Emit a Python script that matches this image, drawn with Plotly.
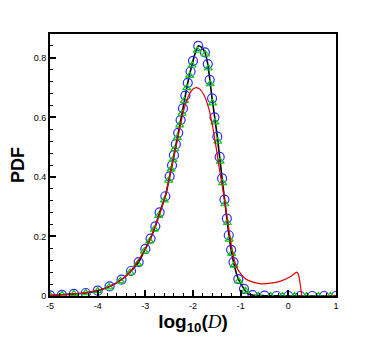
import plotly.graph_objects as go

# Blue circles
circle_x = [-5.0, -4.75, -4.5, -4.25, -4.0, -3.75, -3.5, -3.3, -3.14, -3.0, -2.89, -2.79, -2.7,
            -2.58, -2.49, -2.44, -2.40, -2.36, -2.31, -2.26, -2.21, -2.16, -2.11, -2.05, -2.0,
            -1.89, -1.75, -1.69, -1.65, -1.60, -1.55, -1.49, -1.44, -1.39, -1.34, -1.29, -1.25,
            -1.20, -1.15, -1.05, -0.93, -0.75, -0.5, -0.25, 0.0, 0.25, 0.5, 0.75, 1.0]
circle_y = [0.002, 0.004, 0.007, 0.010, 0.018, 0.032, 0.055, 0.084, 0.114, 0.158, 0.193, 0.234, 0.281,
            0.335, 0.402, 0.439, 0.473, 0.510, 0.548, 0.591, 0.630, 0.673, 0.716, 0.754, 0.790,
            0.840, 0.818, 0.779, 0.726, 0.664, 0.600, 0.535, 0.467, 0.395, 0.324, 0.260, 0.204,
            0.155, 0.114, 0.057, 0.024, 0.003, 0.001, 0.0, 0.0, 0.0, 0.0, 0.0, 0.0]

# Green triangles
tri_x = [-5.0, -4.75, -4.5, -4.25, -4.0, -3.76, -3.52, -3.32, -3.16, -3.02, -2.91, -2.81, -2.72,
         -2.60, -2.51, -2.46, -2.42, -2.38, -2.33, -2.28, -2.23, -2.18, -2.13, -2.07, -2.02,
         -1.91, -1.74, -1.68, -1.64, -1.59, -1.54, -1.48, -1.43, -1.38, -1.33, -1.28, -1.24,
         -1.19, -1.14, -1.04, -0.90, -0.63, -0.37, -0.12, 0.13, 0.38, 0.63, 0.88]
tri_y = [0.002, 0.004, 0.007, 0.010, 0.017, 0.030, 0.051, 0.079, 0.108, 0.150, 0.184, 0.224, 0.270,
         0.322, 0.388, 0.425, 0.458, 0.494, 0.532, 0.574, 0.613, 0.656, 0.699, 0.740, 0.775,
         0.825, 0.812, 0.765, 0.712, 0.648, 0.584, 0.519, 0.452, 0.380, 0.309, 0.246, 0.190,
         0.142, 0.103, 0.050, 0.018, 0.001, 0.0, 0.0, 0.0, 0.0, 0.0, 0.0]

# Black reference line
line_x = [-5.0, -4.75, -4.5, -4.25, -4.0, -3.75, -3.5, -3.3, -3.14, -3.0, -2.89, -2.79, -2.7,
          -2.58, -2.49, -2.40, -2.31, -2.21, -2.11, -2.0, -1.94, -1.89, -1.82, -1.75, -1.69,
          -1.60, -1.49, -1.39, -1.29, -1.20, -1.15, -1.05, -0.93, -0.85, -0.75, -0.5, 0.0, 0.5, 1.0]
line_y = [0.002, 0.004, 0.007, 0.010, 0.018, 0.032, 0.055, 0.084, 0.114, 0.158, 0.193, 0.234, 0.281,
          0.335, 0.402, 0.473, 0.548, 0.630, 0.716, 0.790, 0.822, 0.840, 0.835, 0.818, 0.779,
          0.664, 0.535, 0.395, 0.260, 0.155, 0.114, 0.057, 0.024, 0.008, 0.003, 0.001, 0.0, 0.0, 0.0]

# Red line
red_x = [-5.0, -4.5, -4.0, -3.75, -3.5, -3.3, -3.0, -2.8, -2.6, -2.45, -2.35, -2.25, -2.17, -2.08,
         -2.0, -1.93, -1.85, -1.77, -1.67, -1.60, -1.53, -1.45, -1.37, -1.29, -1.22, -1.15, -1.08,
         -1.0, -0.9, -0.79, -0.58, -0.37, -0.16, 0.02, 0.10, 0.17, 0.21, 0.24, 0.27, 0.29, 1.0]
red_y = [0.002, 0.007, 0.018, 0.032, 0.055, 0.084, 0.158, 0.232, 0.325, 0.43, 0.505, 0.585, 0.638, 0.677,
         0.695, 0.700, 0.694, 0.675, 0.630, 0.580, 0.515, 0.430, 0.355, 0.270, 0.195, 0.132, 0.095,
         0.075, 0.058, 0.049, 0.041, 0.043, 0.050, 0.063, 0.071, 0.080, 0.072, 0.050, 0.015, 0.0, 0.0]

x_ticks = [-5, -4, -3, -2, -1, 0, 1]
x_tick_text = ["-5", "-4", "-3", "-2", "-1", "0", "1"]
y_ticks = [0, 0.2, 0.4, 0.6, 0.8]
y_tick_text = ["0", "0.2", "0.4", "0.6", "0.8"]

fig = go.Figure()
fig.add_trace(go.Scatter(x=line_x, y=line_y, mode="lines", line=dict(color="black", width=1.6, shape="spline", smoothing=0.6)))
fig.add_trace(go.Scatter(x=circle_x, y=circle_y, mode="markers",
                         marker=dict(symbol="circle-open", size=9, color="#2b2bff", line=dict(width=1.2))))
fig.add_trace(go.Scatter(x=tri_x, y=tri_y, mode="markers",
                         marker=dict(symbol="triangle-up-open", size=7, color="#00cc00", line=dict(width=1.2))))
fig.add_trace(go.Scatter(x=red_x, y=red_y, mode="lines", line=dict(color="#e00000", width=1.2, shape="spline", smoothing=0.5)))

axis_common = dict(showgrid=False, zeroline=False, showline=True, linecolor="black", linewidth=2,
                   mirror=True, ticks="inside", ticklen=6, tickwidth=1.5, tickcolor="black",
                   automargin=False,
                   tickfont=dict(family="Liberation Sans, Arial", size=9, color="black"))
fig.update_xaxes(range=[-5, 1], tickvals=x_ticks, ticktext=x_tick_text,
                 minor=dict(dtick=0.2, ticks="inside", ticklen=3, tickcolor="black", tickwidth=1),
                 title=dict(text="<b>log<sub>10</sub>(</b><i><span style='font-family:Liberation Serif'>D</span></i><b>)</b>",
                            font=dict(family="Liberation Sans, Arial", size=19, color="black"), standoff=0),
                 **axis_common)
fig.update_yaxes(range=[0, 0.88], tickvals=y_ticks, ticktext=y_tick_text,
                 minor=dict(dtick=0.04, ticks="inside", ticklen=3, tickcolor="black", tickwidth=1),
                 title=dict(text="<b>PDF</b>", font=dict(family="Liberation Sans, Arial", size=18, color="black"), standoff=8),
                 **axis_common)
# the page body has an 8px margin, so the figure is sized/offset to land the plot box where the reference has it
fig.update_layout(width=374, height=332, margin=dict(l=42, r=46, t=26, b=44),
                  paper_bgcolor="white", plot_bgcolor="white", showlegend=False)
fig.write_html("out.html")
